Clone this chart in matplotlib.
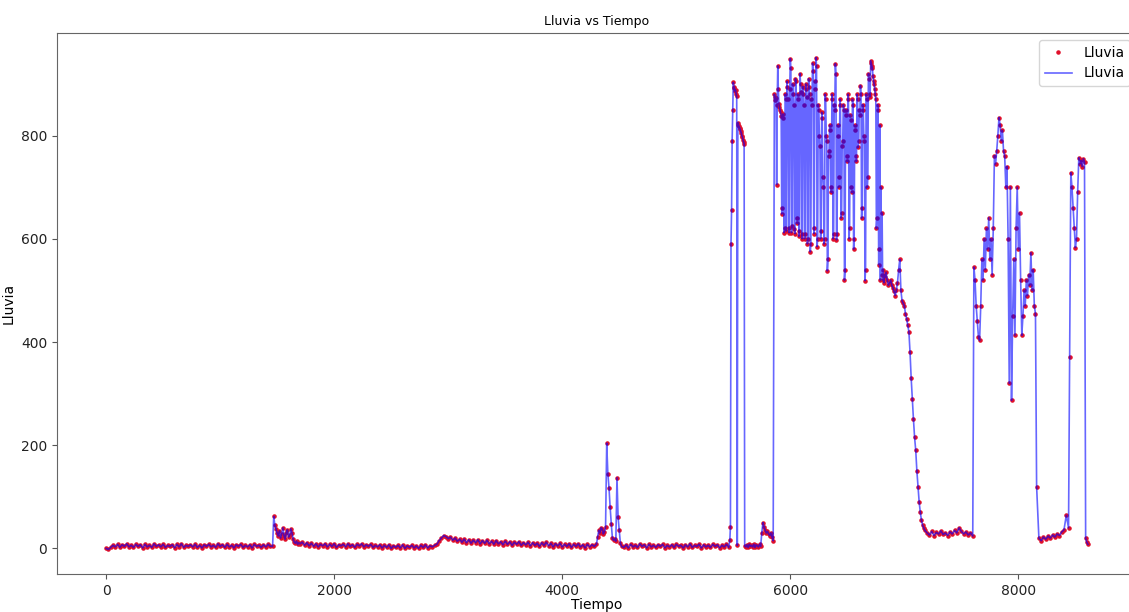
import numpy as np
import matplotlib
matplotlib.use("Agg")
import matplotlib.pyplot as plt

# Tramos de la serie: (tiempo inicial, paso)
inicio = [0, -2, 2, 6, 3, 8, 2, 7, 4, 9, 3, 6, 2, 8, 4, 7, 1, 8, 3, 6,
          2, 9, 4, 7, 3, 8, 2, 6, 4, 7, 1, 8, 3, 9, 2, 6, 4, 7, 3, 8,
          2, 6, 1, 7, 4, 8, 3, 6, 2, 9, 4, 7, 2, 8, 3, 6, 1, 7, 4, 8,
          2, 6, 3, 7, 1, 8, 4, 6, 2, 7, 3, 8, 4]
pico_1 = [4, 62, 45, 38, 30, 24, 34, 20, 28, 40, 25, 18, 30, 36, 22, 26,
          38, 30, 18, 12, 10, 14, 8, 11, 9]
tramo_2 = [12, 6, 11, 5, 10, 4, 9, 3, 8, 5, 9, 3, 8, 4, 9, 2, 7, 5, 8, 3,
           9, 4, 7, 2, 8, 5, 9, 3, 7, 4, 8, 2, 6, 3, 7, 1, 6, 2, 7, 0,
           5, 2, 6, 1, 7, 0, 5, 2, 6, 1, 5, 0, 6, 2, 7, 1, 5, 3, 6]
pico_2 = [8, 15, 20, 25, 23, 19, 22, 16, 20, 14, 18]
tramo_3 = [12, 18, 11, 17, 10, 16, 11, 17, 9, 15, 10, 16, 9, 14, 8, 15,
           9, 13, 7, 14, 8, 13, 6, 12, 8, 13, 6, 11, 7, 12, 5, 11, 6, 10,
           4, 11, 6, 12, 5, 10, 3, 9, 5, 10, 3, 8, 4, 9, 2, 8, 4, 9, 3, 7,
           1, 8, 3, 7, 4]
pico_3 = [8, 22, 35, 30, 40, 38, 28, 32, 42, 204, 145, 118, 80, 48, 20,
          16, 18, 14, 137, 60, 35, 10, 4]
tramo_4 = [2, 7, 1, 8, 3, 6, 2, 9, 4, 7, 1, 8, 3, 6, 2, 7, 4, 8, 1, 6,
           3, 7, 2, 8, 4, 6, 1, 7, 3, 9, 2, 6, 4, 8, 1, 7, 3, 6, 2, 8,
           4, 7, 1, 6, 3, 8, 2]
salto_1 = [17, 42, 590, 655, 790, 850, 903, 895, 892, 886, 888, 880, 876,
           6, 825, 820, 818, 815, 812, 808, 805, 800, 797, 792, 788, 784, 5]
tramo_5 = [3, 7, 2, 8, 4, 6, 3, 8, 2, 7, 5, 3, 8, 4, 30, 50, 42, 35, 30,
           33, 28, 25, 30, 22, 15]
caos = [880, 875, 868, 872, 705, 860, 935, 890, 862, 855, 850, 845, 838,
        648, 660, 842, 835, 612, 620, 880, 870,
        615, 905, 895, 870, 620, 612, 890, 949, 930, 612, 625, 900, 880,
        860, 618, 610, 910, 905, 640, 630, 880,
        870, 605, 615, 920, 900, 885, 610, 600, 895, 880, 860, 600, 610,
        900, 890, 875, 590, 600, 910, 895, 880,
        575, 590, 870, 860, 940, 925, 620, 610, 905, 890, 951, 935, 585,
        600, 860, 850, 800, 780, 600, 615, 845,
        835, 720, 700, 590, 600, 880, 870, 800, 790, 538, 560, 760, 770,
        820, 810, 700, 690, 880, 870, 600, 610,
        860, 850, 939, 920, 598, 610, 820, 800, 700, 720, 870, 860, 640,
        650, 780, 790, 860, 850, 520, 540, 850,
        840, 760, 750, 880, 870, 600, 620, 840, 830, 700, 690, 870, 860,
        580, 600, 820, 810, 760, 750, 880, 870,
        777, 790, 850, 840, 897, 880, 640, 660, 860, 850, 800, 790, 519,
        540, 880, 870, 700, 720, 920, 910, 880,
        875, 945, 940, 935, 930, 915, 905, 900, 890, 880, 870, 620, 640,
        860, 850, 550, 580, 820, 520, 700, 530, 650, 520, 540, 515, 530, 525]
descenso = [535, 520, 510, 515, 520, 510, 505, 498, 490, 500, 515, 540,
            560, 500, 480, 475, 470, 455, 445, 432, 420, 380, 330, 290,
            250, 215, 190, 150, 120, 90, 70, 55, 45, 40, 35]
tramo_6 = [30, 26, 33, 25, 31, 28, 34, 27, 30, 25, 32, 28, 35, 30, 40,
           33, 28, 32, 26, 30, 24]
salto_2 = [545, 520, 470, 440, 410, 403, 470, 560, 520, 600, 540, 620,
           580, 641, 560, 600, 530, 620, 761, 745, 770, 800, 835, 820,
           790, 810, 770, 760, 700, 740, 600, 320, 700, 287, 450, 560,
           413, 620, 700, 580, 650, 520, 413, 450, 500, 470, 520, 490,
           530, 510, 573, 500, 540, 470, 455]
tramo_7 = [120, 20, 15, 22, 18, 24, 20, 26, 22, 28, 25, 32, 36, 64, 40]
salto_3 = [370, 728, 700, 660, 620, 583, 600, 690, 757, 745, 752, 740,
           755, 748, 20, 12, 8]

segmentos = [
    (0, 20, inicio), (1460, 10, pico_1), (1720, 20, tramo_2),
    (2900, 20, pico_2), (3120, 20, tramo_3), (4300, 10, pico_3),
    (4540, 20, tramo_4), (5470, 5, salto_1), (5610, 10, tramo_5),
    (5860, 5, caos), (6840, 10, descenso), (7200, 20, tramo_6),
    (7610, 10, salto_2), (8160, 20, tramo_7), (8450, 10, salto_3),
]

tiempo = np.concatenate([t0 + paso * np.arange(len(v)) for t0, paso, v in segmentos])
lluvia = np.concatenate([np.array(v, dtype=float) for _, _, v in segmentos])

fig = plt.figure(figsize=(11.29, 6.12), dpi=100)
ax = fig.add_axes([0.0505, 0.062, 0.9566, 0.884])

ax.plot(tiempo, lluvia, ".", color="#e0102a", markersize=4.5, label="Lluvia")
ax.plot(tiempo, lluvia, "b-", alpha=0.6, linewidth=1.2, label="Lluvia")

ax.set_title("Lluvia vs Tiempo", fontsize=9)
ax.set_xlabel("Tiempo", fontsize=10, labelpad=0)
ax.set_ylabel("Lluvia", fontsize=10)
ax.set_yticks([0, 200, 400, 600, 800])
ax.tick_params(labelsize=10, color="#555555", labelcolor="#222222")
for s in ax.spines.values():
    s.set_color("#666666")
ax.legend(loc="upper right", fontsize=10)

fig.savefig("out.png", dpi=100)
